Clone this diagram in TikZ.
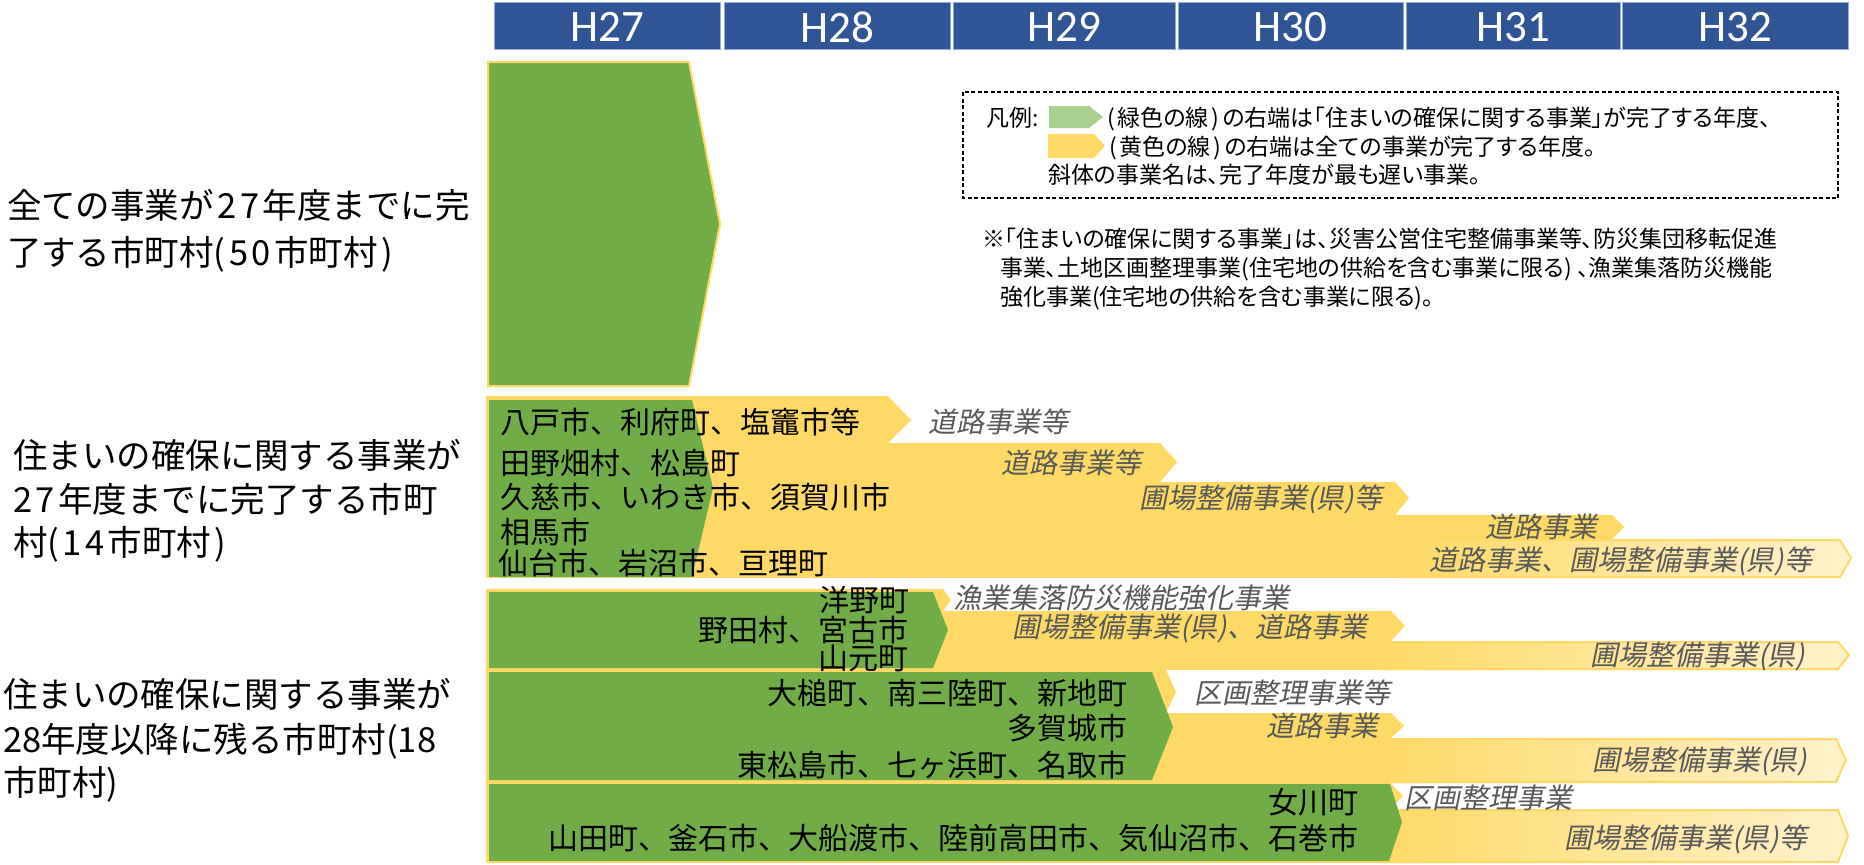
\documentclass[tikz,border=0pt]{standalone}
\usepackage{fontspec}
\setmainfont{Noto Sans CJK JP}
\newfontfamily\jp{Noto Sans CJK JP}
\newfontfamily\jpp[RawFeature=+palt]{Noto Sans CJK JP}
\newfontfamily\jpit[FakeSlant=0.2]{Noto Sans CJK JP}
\newfontfamily\hdr{Carlito}
\definecolor{hdrblue}{HTML}{2F5597}
\definecolor{hdredge}{HTML}{8FAADC}
\definecolor{grn}{HTML}{70AD47}
\definecolor{ylw}{HTML}{FFD966}
\definecolor{ylwl}{HTML}{FFF2CC}
\definecolor{lgrn}{HTML}{A9D18E}
\definecolor{gtxt}{HTML}{595959}
\newcommand\ks{\kern3.5pt}
\newcommand\kp{\kern3pt}
\tikzset{
  blk/.style={inner sep=0pt, outer sep=0pt, text height=26.4pt, text depth=3.6pt, font=\jp\fontsize{30}{36}\selectfont, text=black},
  itl/.style={inner sep=0pt, outer sep=0pt, text height=24.6pt, text depth=3.4pt, font=\jpit\fontsize{28}{34}\selectfont, text=gtxt},
  lbl/.style={inner sep=0pt, outer sep=0pt, text height=30.4pt, text depth=4.1pt, font=\jp\fontsize{34.5}{44}\selectfont, text=black},
  lgd/.style={inner sep=0pt, outer sep=0pt, text height=20.2pt, text depth=2.8pt, font=\jpp\fontsize{23}{28}\selectfont, text=black},
  hdrtxt/.style={inner sep=0pt, font=\hdr\fontsize{45}{50}\selectfont, text=white},
  hdrcell/.style={fill=hdrblue, draw=hdredge, line width=0.8pt},
  ybar/.style={fill=ylw},
  gblock/.style={fill=grn},
  yedge/.style={draw=ylw, line width=2pt, line join=miter},
  gshade/.style={left color=ylw, right color=ylwl},
}
\begin{document}
\begin{tikzpicture}[x=1pt,y=-1pt]
\useasboundingbox (0,0) rectangle (1864,865);
\fill[white] (0,0) rectangle (1864,865);

% header
\foreach \a/\b/\t in {494/720/H27, 724/950/H28, 953/1175/H29, 1178/1403/H30, 1406/1620/H31, 1622/1848/H32}{
  \path[hdrcell] (\a,2) rectangle (\b,49);
  \node[hdrtxt] (h\t) at ({(\a+\b)/2},27) {\t};
}

% section 1
\filldraw[fill=grn, draw=ylw, line width=2pt] (488,62) -- (689,62) -- (720,224) -- (689,386) -- (488,386) -- cycle;

% section 2 yellow rows
\fill[ybar] (486,396)--(888,396)--(911,420)--(888,443)--(486,443)--cycle;
\fill[ybar] (486,443)--(1160,443)--(1177,462)--(1160,482)--(486,482)--cycle;
\fill[ybar] (486,482)--(1395,482)--(1409,498)--(1395,515)--(486,515)--cycle;
\fill[ybar] (486,515)--(1612,515)--(1624,527)--(1612,539)--(486,539)--cycle;
\fill[ybar] (486,539) rectangle (1400,578);
\shade[gshade] (1400,539)--(1840,539)--(1852,558)--(1840,578)--(1400,578)--cycle;
\draw[yedge] (1400,540)--(1840,540)--(1851,558)--(1840,577)--(1400,577);
% section 2 green
\fill[gblock] (489,400)--(692,400)--(713,488)--(692,577)--(489,577)--cycle;

% section 3 yellow rows
\fill[ybar] (486,589)--(943,589)--(951,600)--(943,611)--(486,611)--cycle;
\fill[ybar] (486,611)--(1391,611)--(1405,626)--(1391,641)--(486,641)--cycle;
\fill[ybar] (486,641) rectangle (1380,670);
\shade[gshade] (1380,641)--(1838,641)--(1850,655)--(1838,670)--(1380,670)--cycle;
\draw[yedge] (1380,642)--(1838,642)--(1849,655)--(1838,669)--(1380,669);
\fill[ybar] (486,670)--(1166,670)--(1176,692)--(1166,713)--(486,713)--cycle;
\fill[ybar] (486,713)--(1391,713)--(1404,726)--(1391,738)--(486,738)--cycle;
\fill[ybar] (486,738) rectangle (1380,783);
\shade[gshade] (1380,738)--(1836,738)--(1847,760)--(1836,783)--(1380,783)--cycle;
\draw[yedge] (1380,739)--(1836,739)--(1846,760)--(1836,782)--(1380,782);
\fill[ybar] (486,783)--(1390,783)--(1403,796)--(1390,809)--(486,809)--cycle;
\fill[ybar] (486,809) rectangle (1380,863);
\shade[gshade] (1380,809)--(1838,809)--(1849,836)--(1838,863)--(1380,863)--cycle;
\draw[yedge] (1380,810)--(1838,810)--(1848,836)--(1838,862)--(1380,862);
% section 3 green
\fill[gblock] (489,592)--(933,592)--(948,630)--(933,668)--(489,668)--cycle;
\fill[gblock] (489,672)--(1152,672)--(1173,727)--(1152,780)--(489,780)--cycle;
\fill[gblock] (489,784)--(1390,784)--(1402,822)--(1389,861)--(489,861)--cycle;

% legend
\draw[dashed, line width=1.2pt, dash pattern=on 4pt off 2.5pt] (963,92) rectangle (1838,198);
\fill[lgrn] (1049,106)--(1089,106)--(1103,117)--(1089,128)--(1049,128)--cycle;
\fill[ylw] (1048,134)--(1094,134)--(1105,146)--(1094,158)--(1048,158)--cycle;
\node[lgd, anchor=west] (lg0) at (986,118) {凡例:};
\node[lgd, anchor=west] (lg1) at (1107,118) {(\kp 緑色の線\kp )\kp の右端は「住まいの確保に関する事業」が完了する年度、};
\node[lgd, anchor=west] (lg2) at (1109,147) {(\kp 黄色の線\kp )\kp の右端は全ての事業が完了する年度。};
\node[lgd, anchor=west] (lg3) at (1048,175) {斜体の事業名は、完了年度が最も遅い事業。};

% note
\node[lgd, anchor=west] (nt1) at (982,239) {※「住まいの確保に関する事業」は、災害公営住宅整備事業等、防災集団移転促進};
\node[lgd, anchor=west] (nt2) at (1000,268) {事業、土地区画整理事業(住宅地の供給を含む事業に限る) 、漁業集落防災機能};
\node[lgd, anchor=west] (nt3) at (1000,297) {強化事業(住宅地の供給を含む事業に限る)。};

% left labels
\node[lbl, anchor=west] (s1a) at (7,205) {全ての事業が\ks 2\ks 7\ks 年度までに完};
\node[lbl, anchor=west] (s1b) at (7,252) {了する市町村(\ks 5\ks 0\ks 市町村\ks )};
\node[lbl, anchor=west] (s2a) at (13,455) {住まいの確保に関する事業が};
\node[lbl, anchor=west] (s2b) at (13,499) {2\ks 7\ks 年度までに完了する市町};
\node[lbl, anchor=west] (s2c) at (13,542) {村(\ks 1\ks 4\ks 市町村\ks )};
\node[lbl, anchor=west] (s3a) at (3,694) {住まいの確保に関する事業が};
\node[lbl, anchor=west] (s3b) at (3,739) {28年度以降に残る市町村(18};
\node[lbl, anchor=west] (s3c) at (3,782) {市町村)};

% section 2 texts
\node[blk, anchor=west] (a1) at (500,422) {八戸市、利府町、塩竈市等};
\node[blk, anchor=west] (a2) at (500,463) {田野畑村、松島町};
\node[blk, anchor=west] (a3) at (500,497) {久慈市、いわき市、須賀川市};
\node[blk, anchor=west] (a4) at (500,532) {相馬市};
\node[blk, anchor=west] (a5) at (498,563) {仙台市、岩沼市、亘理町};
\node[itl, anchor=west] (i1) at (928,422) {道路事業等};
\node[itl, anchor=east] (i2) at (1141,463) {道路事業等};
\node[itl, anchor=east] (i3) at (1382,498) {圃場整備事業(県)等};
\node[itl, anchor=east] (i4) at (1597,527) {道路事業};
\node[itl, anchor=east] (i5) at (1812,560) {道路事業、圃場整備事業(県)等};

% section 3 texts
\node[blk, anchor=east] (b1) at (909,600) {洋野町};
\node[blk, anchor=east] (b2) at (908,630) {野田村、宮古市};
\node[blk, anchor=east] (b3) at (908,658) {山元町};
\node[blk, anchor=east] (b4) at (1127,693) {大槌町、南三陸町、新地町};
\node[blk, anchor=east] (b5) at (1127,728) {多賀城市};
\node[blk, anchor=east] (b6) at (1127,765) {東松島市、七ヶ浜町、名取市};
\node[blk, anchor=east] (b7) at (1358,802) {女川町};
\node[blk, anchor=east] (b8) at (1358,838) {山田町、釜石市、大船渡市、陸前高田市、気仙沼市、石巻市};
\node[itl, anchor=west] (j1) at (953,598) {漁業集落防災機能強化事業};
\node[itl, anchor=east] (j2) at (1367,627) {圃場整備事業(県)、道路事業};
\node[itl, anchor=east] (j3) at (1805,655) {圃場整備事業(県)};
\node[itl, anchor=west] (j4) at (1194,693) {区画整理事業等};
\node[itl, anchor=east] (j5) at (1378,726) {道路事業};
\node[itl, anchor=east] (j6) at (1807,760) {圃場整備事業(県)};
\node[itl, anchor=west] (j7) at (1404,798) {区画整理事業};
\node[itl, anchor=east] (j8) at (1807,838) {圃場整備事業(県)等};
\end{tikzpicture}
\end{document}
